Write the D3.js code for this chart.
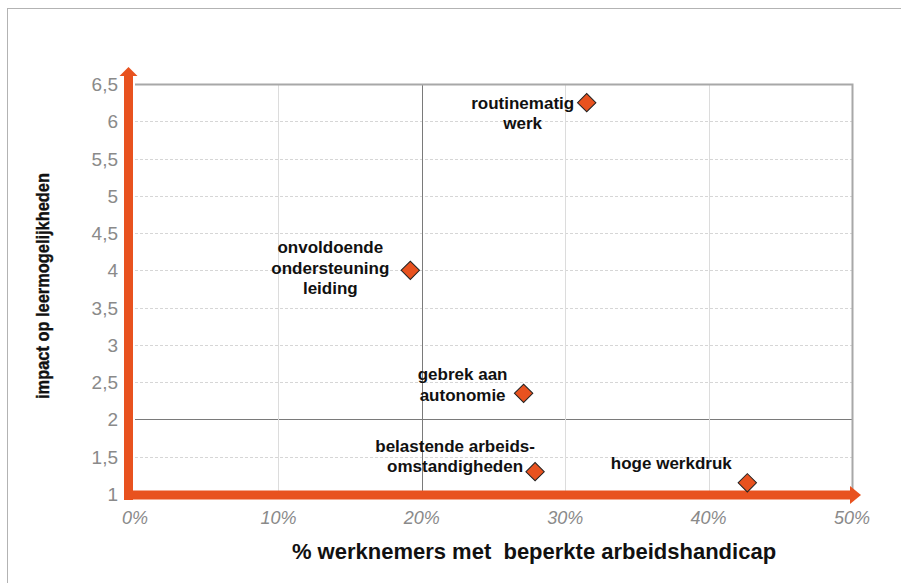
<!DOCTYPE html>
<html>
<head>
<meta charset="utf-8">
<script src="https://cdn.jsdelivr.net/npm/d3@7"></script>
<style>
  html, body { margin: 0; padding: 0; background: #fff; }
  svg { display: block; }
</style>
</head>
<body>
<svg id="chart" width="901" height="583"></svg>
<script>
// Factoren: aandeel werknemers met beperkte arbeidshandicap vs. impact op leermogelijkheden
const labels = [
  ["routinematig", "werk"],
  ["onvoldoende", "ondersteuning", "leiding"],
  ["gebrek aan", "autonomie"],
  ["belastende arbeids-", "omstandigheden"],
  ["hoge werkdruk"]
];
const pctValues = [31.5, 19.2, 27.1, 27.9, 42.7];
const impactValues = [6.25, 4.0, 2.35, 1.3, 1.15];
const xTicks = [0, 10, 20, 30, 40, 50];
const yTicks = [1, 1.5, 2, 2.5, 3, 3.5, 4, 4.5, 5, 5.5, 6, 6.5];

// label placement relative to each marker (centre x offset, first baseline y offset)
const labelOffsets = [[-64, 6], [-80, -17], [-61, -13], [-80, -20], [-76, -14]];

const svg = d3.select("#chart");
const orange = "#e8521f";
const m = { left: 135, right: 852, top: 84, bottom: 494 };

const x = d3.scaleLinear().domain([0, 50]).range([m.left, m.right]);
const y = d3.scaleLinear().domain([1, 6.5]).range([m.bottom, m.top]);

// outer frame
svg.append("rect")
  .attr("x", 7.5).attr("y", 8.5).attr("width", 900).attr("height", 580)
  .attr("fill", "none").attr("stroke", "#b3b3b3").attr("stroke-width", 1);

// horizontal gridlines
const g = svg.append("g");
g.selectAll("line.hy").data(yTicks.filter(v => v > 1 && v < 6.5)).join("line")
  .attr("x1", m.left).attr("x2", m.right)
  .attr("y1", d => Math.round(y(d)) + 0.5).attr("y2", d => Math.round(y(d)) + 0.5)
  .attr("stroke", d => d === 2 ? "#7a7a7a" : "#d6d6d6")
  .attr("stroke-dasharray", d => d === 2 ? null : "3,2")
  .attr("stroke-width", 1);

// vertical gridlines
g.selectAll("line.vx").data(xTicks.filter(v => v > 0 && v < 50)).join("line")
  .attr("y1", m.top).attr("y2", m.bottom)
  .attr("x1", d => Math.round(x(d)) + 0.5).attr("x2", d => Math.round(x(d)) + 0.5)
  .attr("stroke", d => d === 20 ? "#7a7a7a" : "#dcdcdc")
  .attr("stroke-width", 1);

// plot border (top and right)
g.append("path")
  .attr("d", `M${m.left},${m.top + 0.5}H${m.right + 0.5}V${m.bottom}`)
  .attr("fill", "none").attr("stroke", "#a8a8a8").attr("stroke-width", 2);

// orange axis arrows
const axisY = m.bottom + 1;
const axisX = m.left - 6.5;
svg.append("rect")
  .attr("x", axisX - 4.5).attr("y", 74).attr("width", 9).attr("height", axisY + 5 - 74)
  .attr("fill", orange);
svg.append("path")
  .attr("d", `M${axisX - 9},${76}L${axisX},${67}L${axisX + 9},${76}Z`)
  .attr("fill", orange);
svg.append("rect")
  .attr("x", axisX - 4.5).attr("y", axisY - 4.5).attr("width", 851 - (axisX - 4.5)).attr("height", 9)
  .attr("fill", orange);
svg.append("path")
  .attr("d", `M850,${axisY - 9}L861,${axisY}L850,${axisY + 9}Z`)
  .attr("fill", orange);

// y tick labels
svg.append("g").selectAll("text").data(yTicks).join("text")
  .attr("x", 118).attr("y", d => y(d) + 7)
  .attr("text-anchor", "end")
  .attr("font-family", "Liberation Sans, Arial, sans-serif")
  .attr("font-size", 19).attr("fill", "#8a8a8a")
  .text(d => String(d).replace(".", ","));

// x tick labels
svg.append("g").selectAll("text").data(xTicks).join("text")
  .attr("x", d => x(d)).attr("y", 524)
  .attr("text-anchor", "middle")
  .attr("font-family", "Liberation Sans, Arial, sans-serif")
  .attr("font-style", "italic")
  .attr("font-size", 18).attr("fill", "#8a8a8a")
  .text(d => d + "%");

// axis titles
svg.append("text")
  .attr("x", 534).attr("y", 559)
  .attr("text-anchor", "middle")
  .attr("font-family", "Liberation Sans, Arial, sans-serif")
  .attr("font-weight", "bold").attr("font-size", 22).attr("fill", "#111")
  .attr("xml:space", "preserve")
  .text("% werknemers met  beperkte arbeidshandicap");

svg.append("text")
  .attr("transform", "translate(49,286) rotate(-90)")
  .attr("text-anchor", "middle")
  .attr("font-family", "Liberation Sans Narrow, Arial Narrow, Liberation Sans, sans-serif")
  .attr("font-weight", "bold").attr("font-size", 18).attr("fill", "#111")
  .attr("stroke", "#111").attr("stroke-width", 0.4)
  .attr("textLength", 226).attr("lengthAdjust", "spacingAndGlyphs")
  .text("impact op leermogelijkheden");

// data markers
const pts = svg.append("g");
pts.selectAll("path").data(pctValues).join("path")
  .attr("transform", (d, i) => `translate(${x(d)},${y(impactValues[i])}) rotate(45)`)
  .attr("d", "M-6.5,-6.5H6.5V6.5H-6.5Z")
  .attr("fill", orange).attr("stroke", "#222").attr("stroke-width", 1);

// point labels
const lab = svg.append("g");
pctValues.forEach((d, i) => {
  const cx = x(d) + labelOffsets[i][0];
  const cy = y(impactValues[i]) + labelOffsets[i][1];
  const t = lab.append("text")
    .attr("text-anchor", "middle")
    .attr("font-family", "Liberation Sans, Arial, sans-serif")
    .attr("font-weight", "bold").attr("font-size", 17).attr("fill", "#111");
  labels[i].forEach((line, k) => {
    t.append("tspan").attr("x", cx).attr("y", cy + k * 20.5).text(line);
  });
});
</script>
</body>
</html>
